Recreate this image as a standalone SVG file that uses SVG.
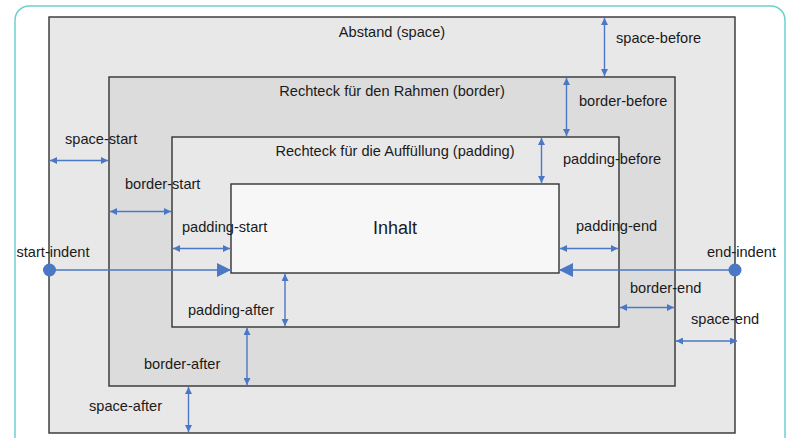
<svg xmlns="http://www.w3.org/2000/svg" width="787" height="438" viewBox="0 0 787 438">
<defs>
<style>
.box{stroke:#333;stroke-width:1.4}
.t{font-family:"Liberation Sans",Arial,sans-serif;font-size:14.6px;fill:#1a1a1a}
.dim{stroke:#4a78c4;stroke-width:1.4;fill:none;marker-start:url(#a);marker-end:url(#a)}
.ind{stroke:#4a78c4;stroke-width:1.4;fill:none;marker-end:url(#big)}
</style>
<marker id="a" viewBox="0 0 10 10" refX="10" refY="5" markerWidth="5" markerHeight="5" markerUnits="strokeWidth" orient="auto-start-reverse">
<path d="M0,0 L10,5 L0,10 z" fill="#4a78c4"/>
</marker>
<marker id="big" viewBox="0 0 10 10" refX="10" refY="5" markerWidth="10" markerHeight="10" markerUnits="strokeWidth" orient="auto">
<path d="M0,0 L10,5 L0,10 z" fill="#4a78c4"/>
</marker>
</defs>
<rect width="787" height="438" fill="#ffffff"/>
<rect x="15" y="6" width="770" height="450" rx="14" fill="none" stroke="#6fcfcf" stroke-width="1.5"/>
<g id="space">
<rect class="box" x="49" y="17" width="686" height="416" fill="#e8e8e8"/>
<text class="t" x="392" y="37" text-anchor="middle">Abstand (space)</text>
</g>
<g id="border">
<rect class="box" x="109" y="77" width="566" height="309" fill="#dcdcdc"/>
<text class="t" x="392" y="96" text-anchor="middle">Rechteck für den Rahmen (border)</text>
</g>
<g id="padding">
<rect class="box" x="172" y="137" width="447" height="190" fill="#e8e8e8"/>
<text class="t" x="395" y="156" text-anchor="middle">Rechteck für die Auffüllung (padding)</text>
</g>
<g id="content">
<rect class="box" x="231" y="184" width="328" height="89" fill="#f7f7f7"/>
<text class="t" x="395" y="234" text-anchor="middle" style="font-size:18px">Inhalt</text>
</g>
<g id="connectors">
<line class="dim" x1="604.5" y1="18" x2="604.5" y2="76"/>
<line class="dim" x1="566.5" y1="78" x2="566.5" y2="136"/>
<line class="dim" x1="541.5" y1="138" x2="541.5" y2="183"/>
<line class="dim" x1="50" y1="160.5" x2="108" y2="160.5"/>
<line class="dim" x1="110" y1="211.5" x2="171" y2="211.5"/>
<line class="dim" x1="173" y1="248.5" x2="230" y2="248.5"/>
<line class="dim" x1="560" y1="248.5" x2="618" y2="248.5"/>
<line class="dim" x1="620" y1="307.5" x2="674" y2="307.5"/>
<line class="dim" x1="676" y1="341" x2="737" y2="341"/>
<line class="dim" x1="285" y1="274" x2="285" y2="326"/>
<line class="dim" x1="247" y1="328" x2="247" y2="385"/>
<line class="dim" x1="188.5" y1="387" x2="188.5" y2="432"/>
<circle cx="49.5" cy="270" r="6.5" fill="#4a78c4"/>
<line class="ind" x1="49.5" y1="270" x2="231" y2="270"/>
<circle cx="735" cy="270" r="6.5" fill="#4a78c4"/>
<line class="ind" x1="735" y1="270" x2="559" y2="270"/>
</g>
<g id="labels">
<text class="t" x="616" y="43">space-before</text>
<text class="t" x="579" y="106">border-before</text>
<text class="t" x="563" y="164">padding-before</text>
<text class="t" x="65" y="144">space-start</text>
<text class="t" x="125" y="189">border-start</text>
<text class="t" x="182" y="232">padding-start</text>
<text class="t" x="576" y="231">padding-end</text>
<text class="t" x="16.5" y="257">start-indent</text>
<text class="t" x="707" y="257">end-indent</text>
<text class="t" x="630" y="293">border-end</text>
<text class="t" x="188" y="315">padding-after</text>
<text class="t" x="691" y="324">space-end</text>
<text class="t" x="144" y="369">border-after</text>
<text class="t" x="89" y="411">space-after</text>
</g>
</svg>
